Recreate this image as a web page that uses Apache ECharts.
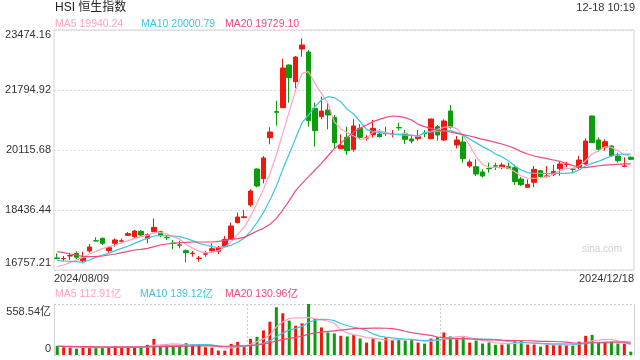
<!DOCTYPE html>
<html><head><meta charset="utf-8">
<script src="https://cdn.jsdelivr.net/npm/echarts@6/dist/echarts.min.js"></script>
<style>html,body{margin:0;padding:0;background:#fff}#c{width:640px;height:360px}</style>
</head><body><div id="c"></div>
<script>
const dates = ['2024/08/09','2024/08/12','2024/08/13','2024/08/14','2024/08/15','2024/08/16','2024/08/19','2024/08/20','2024/08/21','2024/08/22','2024/08/23','2024/08/26','2024/08/27','2024/08/28','2024/08/29','2024/08/30',
'2024/09/02','2024/09/03','2024/09/04','2024/09/05','2024/09/09','2024/09/10','2024/09/11','2024/09/12','2024/09/13','2024/09/16','2024/09/17','2024/09/19','2024/09/20','2024/09/23','2024/09/24','2024/09/25','2024/09/26','2024/09/27','2024/09/30',
'2024/10/02','2024/10/03','2024/10/04','2024/10/07','2024/10/08','2024/10/09','2024/10/10','2024/10/14','2024/10/15','2024/10/16','2024/10/17','2024/10/18','2024/10/21','2024/10/22','2024/10/23','2024/10/24','2024/10/25','2024/10/28','2024/10/29','2024/10/30','2024/10/31',
'2024/11/01','2024/11/04','2024/11/05','2024/11/06','2024/11/07','2024/11/08','2024/11/11','2024/11/12','2024/11/13','2024/11/14','2024/11/15','2024/11/18','2024/11/19','2024/11/20','2024/11/21','2024/11/22','2024/11/25','2024/11/26','2024/11/27','2024/11/28','2024/11/29',
'2024/12/02','2024/12/03','2024/12/04','2024/12/05','2024/12/06','2024/12/09','2024/12/10','2024/12/11','2024/12/12','2024/12/13','2024/12/16','2024/12/17','2024/12/18'];

const opens = [17095,17070,17150,17224,17018,17289,17575,17643,17298,17503,
17560,17727,17690,17839,17643,17830,17830,17670,17510,17462,
17298,17218,17080,17200,17298,17280,17410,17625,18082,18230,
18577,19584,19313,20461,21190,21300,22494,22028,22942,22858,
21282,21048,21235,21030,20153,20470,20134,20722,20445,20545,
20563,20575,20555,20745,20582,20424,20433,20590,20433,20769,
20396,21207,20256,20339,19668,19649,19500,19600,19675,19621,
19649,19621,19304,19071,19211,19537,19380,19435,19593,19710,
19580,19631,19724,21067,20396,20190,20228,19948,19660,19910];
const closes = [17080,17080,17160,17112,17093,17401,17568,17503,17382,17597,
17575,17774,17849,17737,17746,17951,17737,17660,17500,17452,
17242,17228,17090,17210,17354,17392,17615,17989,18240,18245,
18968,19108,19892,20619,21170,22410,22140,22718,23054,20936,
20657,21207,21095,20321,20246,20097,20787,20470,20455,20722,
20489,20585,20565,20735,20414,20368,20489,20580,20983,20535,
20927,20750,20396,19873,19780,19444,19388,19590,19665,19696,
19603,19229,19145,19155,19575,19369,19390,19518,19724,19720,
19575,19836,20367,20321,20134,20349,19957,19817,19670,19855];
const lows = [17065,17000,17037,17056,16944,17242,17565,17457,17242,17410,
17503,17709,17643,17690,17503,17821,17672,17597,17336,17364,
16974,17130,16990,17130,17270,17205,17392,17597,18063,18203,
18530,19071,19183,20274,20797,21290,21440,21841,22728,20769,
20209,20974,20694,20162,20150,19976,20069,20414,20377,20470,
20461,20507,20470,20657,20284,20302,20377,20470,20414,20377,
20367,20713,20162,19761,19621,19388,19351,19481,19556,19584,
19575,19136,19108,19068,19071,19351,19341,19388,19397,19631,
19462,19575,19705,20321,20069,20097,19929,19761,19631,19836];
const highs = [17224,17149,17242,17280,17270,17485,17672,17672,17429,17643,
17643,17821,17877,17877,17783,18203,17858,17709,17597,17578,
17336,17289,17149,17298,17503,17429,17709,18082,18362,18436,
19015,19603,19948,20750,21496,22672,22513,22746,23241,22914,
21440,21608,21440,21095,20554,20769,20974,20843,20526,20955,
20694,20769,20675,20881,20675,20517,20675,20675,21002,20815,
20974,21375,20507,20507,19854,19854,19575,19761,19761,19761,
19761,19705,19360,19295,19668,19556,19668,19696,19798,19789,
19612,19948,20442,21076,20470,20414,20246,20041,19910,19948];

const ma5 = [16850,16897,16962,17037,17112,17205,17280,17354,17410,17457,
17522,17578,17643,17690,17727,17802,17811,17765,17690,17620,
17470,17370,17280,17242,17252,17298,17392,17545,17760,17955,
18250,18623,19015,19444,19976,20582,21188,21795,22261,22308,
21981,21702,21422,20900,20713,20601,20507,20414,20442,20619,
20657,20601,20545,20563,20582,20535,20489,20601,20629,20694,
20750,20769,20713,20507,20250,19930,19710,19631,19631,19631,
19612,19509,19388,19332,19323,19332,19369,19444,19537,19593,
19612,19668,19817,20004,20097,20209,20190,20097,19985,19940.24];
const ma10 = [17018,17009,17000,16990,16972,17037,17112,17177,17224,17298,
17363,17429,17503,17578,17643,17709,17718,17718,17709,17690,
17643,17578,17503,17457,17410,17382,17410,17448,17532,17643,
17839,18082,18362,18716,19099,19574,20004,20451,20881,21095,
21328,21515,21608,21580,21468,21254,21123,20909,20694,20629,
20610,20582,20563,20545,20526,20526,20507,20601,20619,20638,
20647,20657,20601,20532,20420,20315,20210,20120,20004,19930,
19817,19668,19556,19481,19463,19463,19463,19463,19463,19463,
19481,19556,19668,19742,19798,19873,19948,19994,20004,20000.79];
const ma20 = [17270,17242,17205,17177,17130,17130,17130,17149,17177,17205,
17242,17280,17317,17336,17363,17410,17457,17485,17503,17522,
17531,17541,17541,17541,17541,17559,17587,17615,17634,17671,
17755,17849,17923,18035,18203,18436,18698,18977,19183,19369,
19556,19742,19948,20153,20302,20470,20619,20722,20815,20909,
20974,21030,21067,21058,21021,20955,20834,20769,20722,20675,
20647,20619,20582,20545,20507,20461,20414,20377,20330,20283,
20227,20162,20069,20004,19948,19910,19873,19836,19798,19740,
19680,19640,19625,19650,19675,19690,19705,19715,19725,19729.10];

const volumes = [100,85,81,70,81,85,85,81,85,100,
85,81,85,85,111,177,100,118,100,100,
129,111,111,85,81,48,48,122,144,92,
177,199,269,365,523,457,376,321,347,558.54,
394,302,247,236,210,203,218,181,136,181,
147,192,162,173,159,166,136,125,181,195,
247,203,173,195,136,159,125,136,111,114,
122,159,159,114,114,92,114,114,114,111,
103,147,210,221,136,144,147,125,122,37];
const volMa5 = [98,95,90,85,83,80,80,80,83,87,
87,86,87,87,89,108,112,118,121,119,
109,112,110,107,103,87,75,77,89,91,
117,147,176,220,307,363,398,408,405,412,
399,385,370,348,278,240,223,210,190,184,
173,167,164,171,167,170,159,152,153,161,
177,190,200,203,191,173,158,150,133,129,
122,128,133,134,134,128,119,110,110,109,
111,118,137,158,163,172,172,155,135,112.91];
const volMa10 = [95,93,91,89,88,87,86,85,84,84,
84,83,84,85,88,98,99,103,104,104,
109,112,114,114,111,98,93,94,98,97,
102,111,127,155,199,240,272,292,313,359,
381,391,389,376,345,320,304,290,269,231,
206,195,187,180,175,172,163,158,162,164,
174,175,176,178,176,175,174,175,168,160,
147,143,142,134,131,125,124,121,122,121,
119,118,123,134,136,141,145,146,147,139.12];
const volMa20 = [96,95,94,93,92,91,90,89,88,88,
88,88,88,88,88,90,91,92,93,95,
96,98,99,100,100,98,96,98,101,101,
105,111,120,134,155,169,183,193,205,228,
241,251,258,265,272,280,288,291,291,295,
294,293,288,278,260,246,234,224,215,197,
190,185,181,179,175,173,169,166,165,162,
161,159,159,156,154,150,149,148,145,141,
133,131,132,134,134,133,134,134,134,130.96];

const priceTicks = ['16757.21','18436.44','20115.68','21794.92','23474.16'];
const priceMin = 16757.21, priceMax = 23474.16;
const volMax = 558.54;
const volTicks = ['0','558.54亿'];
const legendMain = ['MA5 19940.24','MA10 20000.79','MA20 19729.10'];
const legendVol = ['MA5 112.91亿','MA10 139.12亿','MA20 130.96亿'];
const titleText = 'HSI 恒生指数';
const timeText = '12-18 10:19';
const watermark = 'sina.com';

const RED = '#f0180c', GREEN = '#0c9c0c';
const C_MA5 = '#ffa2c3', C_MA10 = '#3fc4e2', C_MA20 = '#ee4a7e';
const FONT = '"Liberation Sans","Noto Sans CJK SC",sans-serif';
const BORDER = '#d3d3d3';
const DOT = '#d9d9d9';
const priceStep = (priceMax - priceMin) / (priceTicks.length - 1);

const chart = echarts.init(document.getElementById('c'));
const candleData = dates.map((d, i) => [opens[i], closes[i], lows[i], highs[i]]);
const base = {fontSize: 11, color: '#333', fontFamily: FONT};

function txt(text, x, y, color, size, align) {
  return {type: 'text', x: x, y: y, silent: true,
    style: {text: text, fill: color, font: size + 'px ' + FONT, align: align || 'left', verticalAlign: 'middle'}};
}
const legColors = [C_MA5, C_MA10, C_MA20];
const legX = [55, 141, 225];

function maLine(name, data, color, xi, yi) {
  return {type: 'line', name: name, data: data, xAxisIndex: xi, yAxisIndex: yi,
    symbol: 'none', showSymbol: false, lineStyle: {width: 1.2, color: color}, itemStyle: {color: color}, z: 3};
}

chart.setOption({
  animation: false,
  backgroundColor: '#fff',
  grid: [
    {left: 54, right: 6, top: 30, height: 240, show: true, borderColor: BORDER, borderWidth: 1, backgroundColor: 'transparent'},
    {left: 54, right: 6, top: 304, height: 51}
  ],
  xAxis: [
    {type: 'category', gridIndex: 0, data: dates, boundaryGap: true,
      axisLine: {show: false}, axisTick: {show: false}, axisLabel: {show: false}, splitLine: {show: false}},
    {type: 'value', gridIndex: 0, min: 0, max: 1, interval: 1, position: 'bottom',
      axisLine: {show: false}, axisTick: {show: false}, splitLine: {show: false},
      axisLabel: Object.assign({margin: 3, align: 'left', formatter: v => v === 0 ? dates[0] : ''}, base)},
    {type: 'value', gridIndex: 0, min: 0, max: 1, interval: 1, position: 'bottom',
      axisLine: {show: false}, axisTick: {show: false}, splitLine: {show: false},
      axisLabel: Object.assign({margin: 3, align: 'right', formatter: v => v === 1 ? dates[dates.length - 1] : ''}, base)},
    {type: 'category', gridIndex: 1, data: dates, boundaryGap: true,
      axisLine: {show: false}, axisTick: {show: false}, axisLabel: {show: false},
      splitLine: {show: true, interval: (i) => i === 30 || i === 60, lineStyle: {color: '#cccccc', type: [2, 2]}}}
  ],
  yAxis: [
    {type: 'value', gridIndex: 0, min: priceMin, max: priceMax, interval: priceStep,
      axisLine: {show: false}, axisTick: {show: false},
      splitLine: {show: true, lineStyle: {color: DOT, type: [2, 2]}},
      axisLabel: {margin: 3, formatter: function (v) {
          const k = Math.round((v - priceMin) / priceStep);
          const t = priceTicks[k];
          if (k === 0) return '{b|' + t + '}';
          if (k === priceTicks.length - 1) return '{t|' + t + '}';
          return '{m|' + t + '}';
        },
        rich: {t: Object.assign({padding: [10, 0, 0, 0]}, base), b: Object.assign({padding: [0, 0, 15, 0]}, base), m: base}}},
    {type: 'value', gridIndex: 1, min: 0, max: volMax, interval: volMax,
      axisLine: {show: true, lineStyle: {color: BORDER}}, axisTick: {show: false},
      splitLine: {show: true, lineStyle: {color: '#cccccc', type: [2, 2]}},
      axisLabel: {margin: 3, formatter: function (v) {
          return v > 0 ? '{t|' + volTicks[1] + '}' : '{b|' + volTicks[0] + '}';
        },
        rich: {t: Object.assign({padding: [15, 0, 0, 0]}, base), b: Object.assign({padding: [0, 0, 13, 0]}, base)}}},
    {type: 'value', gridIndex: 1, min: 0, max: volMax, position: 'right',
      axisLine: {show: true, lineStyle: {color: BORDER}}, axisTick: {show: false},
      axisLabel: {show: false}, splitLine: {show: false}}
  ],
  series: [
    {type: 'candlestick', xAxisIndex: 0, yAxisIndex: 0, data: candleData, barWidth: 5,
      itemStyle: {color: RED, color0: GREEN, borderColor: RED, borderColor0: GREEN, borderWidth: 1}},
    maLine('MA5', ma5, C_MA5, 0, 0),
    maLine('MA10', ma10, C_MA10, 0, 0),
    maLine('MA20', ma20, C_MA20, 0, 0),
    {type: 'bar', xAxisIndex: 3, yAxisIndex: 1, data: volumes, barWidth: 3,
      itemStyle: {color: p => closes[p.dataIndex] >= opens[p.dataIndex] ? RED : GREEN}},
    maLine('VMA5', volMa5, C_MA5, 3, 1),
    maLine('VMA10', volMa10, C_MA10, 3, 1),
    maLine('VMA20', volMa20, C_MA20, 3, 1)
  ],
  graphic: [
    txt(titleText, 55, 8, '#222', 12, 'left'),
    txt(timeText, 635, 8, '#333', 11, 'right'),
    txt(legendMain[0], legX[0], 24, legColors[0], 10.5),
    txt(legendMain[1], legX[1], 24, legColors[1], 10.5),
    txt(legendMain[2], legX[2], 24, legColors[2], 10.5),
    txt(legendVol[0], legX[0], 294.5, legColors[0], 10.5),
    txt(legendVol[1], legX[1] - 1, 294.5, legColors[1], 10.5),
    txt(legendVol[2], legX[2], 294.5, legColors[2], 10.5),
    txt(watermark, 582, 249, '#cfcfcf', 10, 'left')
  ]
});
</script></body></html>
